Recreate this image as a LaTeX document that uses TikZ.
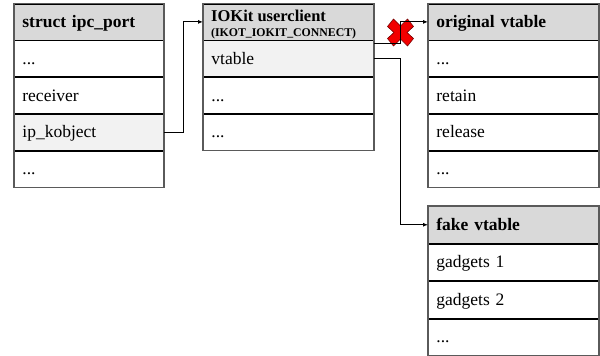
\documentclass[tikz,border=0pt]{standalone}
\usepackage{fontspec}
\setmainfont{Liberation Serif}
\usetikzlibrary{arrows.meta,calc}
\definecolor{hdrgray}{HTML}{D9D9D9}
\definecolor{selgray}{HTML}{F2F2F2}
\definecolor{edgegray}{HTML}{5A5A5A}
\definecolor{xred}{HTML}{F20000}
\begin{document}
\begin{tikzpicture}[x=1pt,y=-1pt,
  cell/.style={draw=black, line width=0.8pt, rectangle, anchor=north west,
    inner xsep=8pt, inner ysep=0pt, text height=13pt, text depth=2pt,
    align=left, minimum height=36pt, font=\fontsize{17.5}{20}\selectfont},
  tall/.style={minimum height=36.75pt},
  wa/.style={minimum width=149pt, text width=133pt},
  wb/.style={minimum width=170pt, text width=154pt},
  hdr/.style={fill=hdrgray, font=\fontsize{17.5}{20}\selectfont\bfseries},
  sel/.style={fill=selgray},
  outer/.style={draw=edgegray, line width=1.5pt},
  conn/.style={draw=black, line width=0.9pt, -{Latex[length=5pt,width=4pt]}},
  xmark/.style={fill=xred, draw=red!45!black, line width=0.6pt}]
\useasboundingbox (0,0) rectangle (600,356);

% struct ipc_port
\node[cell,wa,hdr] (h1) at (14,3.5) {struct ipc\_port};
\node[cell,wa] (r11) at (h1.south west) {...};
\node[cell,wa] (r12) at (r11.south west) {receiver};
\node[cell,wa,sel] (r13) at (r12.south west) {ip\_kobject};
\node[cell,wa] (r14) at (r13.south west) {...};
\draw[outer] (h1.north west) rectangle (r14.south east);

% IOKit userclient
\node[cell,wb,fill=hdrgray] (h2) at (203,3.5) {};
\node[anchor=base west, inner sep=0pt, font=\fontsize{16.5}{18}\selectfont\bfseries] (t2a) at ($(h2.north west)+(8,18.2)$) {IOKit userclient};
\node[anchor=base west, inner sep=0pt, font=\fontsize{11.8}{13}\selectfont\bfseries] (t2b) at ($(h2.north west)+(8,32.5)$) {(IKOT\_IOKIT\_CONNECT)};
\node[cell,wb,sel] (r21) at (h2.south west) {vtable};
\node[cell,wb] (r22) at (r21.south west) {...};
\node[cell,wb] (r23) at (r22.south west) {...};
\draw[outer] (h2.north west) rectangle (r23.south east);

% original vtable
\node[cell,wb,hdr] (h3) at (428,3.5) {original vtable};
\node[cell,wb] (r31) at (h3.south west) {...};
\node[cell,wb] (r32) at (r31.south west) {retain};
\node[cell,wb] (r33) at (r32.south west) {release};
\node[cell,wb] (r34) at (r33.south west) {...};
\draw[outer] (h3.north west) rectangle (r34.south east);

% fake vtable
\node[cell,wb,tall,hdr] (h4) at (428,206) {fake vtable};
\node[cell,wb,tall] (r41) at (h4.south west) {gadgets 1};
\node[cell,wb,tall] (r42) at (r41.south west) {gadgets 2};
\node[cell,wb,tall] (r43) at (r42.south west) {...};
\draw[outer] (h4.north west) rectangle (r43.south east);

% red cross
\path[xmark, shift={(400.5,32.5)}]
  (-13,-6) -- (-7,-13.5) -- (0,-6.5) -- (7,-13.5) -- (13,-6) -- (6.5,0)
  -- (13,6) -- (7,13.5) -- (0,6.5) -- (-7,13.5) -- (-13,6) -- (-6.5,0) -- cycle;

% connectors
\coordinate (j1) at (183,0);
\coordinate (j2) at (400,0);
\coordinate (s3) at ($(r21.north east)+(0,3.5)$);
\draw[conn] (r13.east) -- (r13.east -| j1) |- (h2.west);
\draw[conn] (r21.east) -- (r21.east -| j2) |- (h4.west);
\draw[conn] (s3) -- (s3 -| j2) |- (h3.west);
\end{tikzpicture}
\end{document}
